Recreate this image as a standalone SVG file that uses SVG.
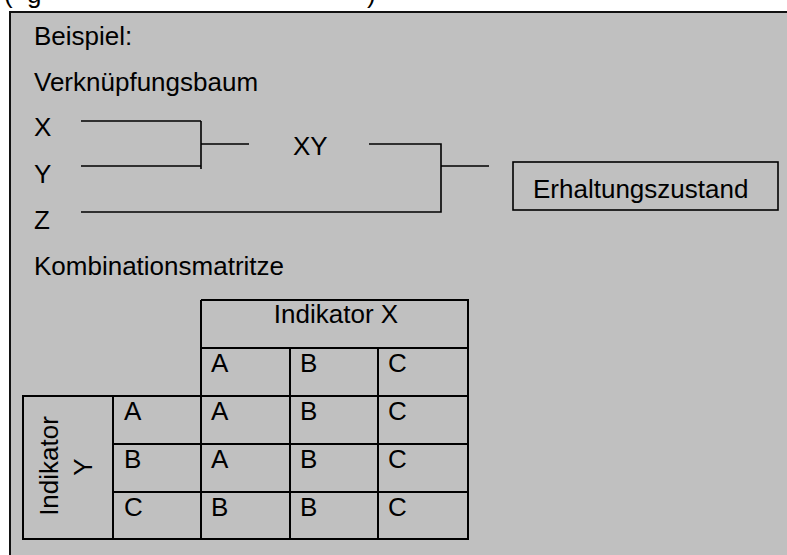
<svg xmlns="http://www.w3.org/2000/svg" width="787" height="555" viewBox="0 0 787 555">
<style>
text{font-family:"Liberation Sans",Arial,sans-serif;font-size:26px;fill:#000}
.ln{stroke:#000;stroke-width:1.6;fill:none}
.cell{stroke:#000;stroke-width:2;fill:none}
</style>
<rect width="787" height="555" fill="#fff"/>
<g id="caption">
<text x="4" y="3">(</text><text x="27" y="3">g</text><text x="367" y="3">)</text>
</g>
<g id="frame">
<rect x="10" y="12" width="800" height="560" fill="#c0c0c0" stroke="#111" stroke-width="2"/>
</g>
<g id="labels">
<text x="34" y="45">Beispiel:</text>
<text x="34" y="91">Verknüpfungsbaum</text>
<text x="34" y="275">Kombinationsmatritze</text>
</g>
<g id="nodeX"><text x="34" y="136">X</text></g>
<g id="nodeY"><text x="34" y="183">Y</text></g>
<g id="nodeZ"><text x="34" y="229">Z</text></g>
<g id="nodeXY"><text x="293" y="155">XY</text></g>
<g id="nodeErhaltungszustand">
<rect x="513" y="162" width="265" height="48" class="ln"/>
<text x="533" y="198">Erhaltungszustand</text>
</g>
<g id="connectors">
<path class="ln" d="M81 121H201M81 166H201M201 121V169M201 144H249"/>
<path class="ln" d="M369 144H441V212H81M441 166H489"/>
</g>
<g id="matrix">
<path class="cell" d="M201 300H468V539H23V396H468M201 348H468M201 300V539M290 348V539M378 348V539M113 396V539M23 444H468M23 492H468"/>
<rect x="24" y="397" width="88" height="141" fill="#c0c0c0"/>
<text x="336" y="323" text-anchor="middle">Indikator X</text>
<text x="211" y="372">A</text><text x="300" y="372">B</text><text x="388" y="372">C</text>
<text x="124" y="420">A</text><text x="211" y="420">A</text><text x="300" y="420">B</text><text x="388" y="420">C</text>
<text x="124" y="468">B</text><text x="211" y="468">A</text><text x="300" y="468">B</text><text x="388" y="468">C</text>
<text x="124" y="516">C</text><text x="211" y="516">B</text><text x="300" y="516">B</text><text x="388" y="516">C</text>
<text transform="translate(58 466) rotate(-90)" text-anchor="middle">Indikator</text>
<text transform="translate(92 467) rotate(-90)" text-anchor="middle">Y</text>
</g>
</svg>
